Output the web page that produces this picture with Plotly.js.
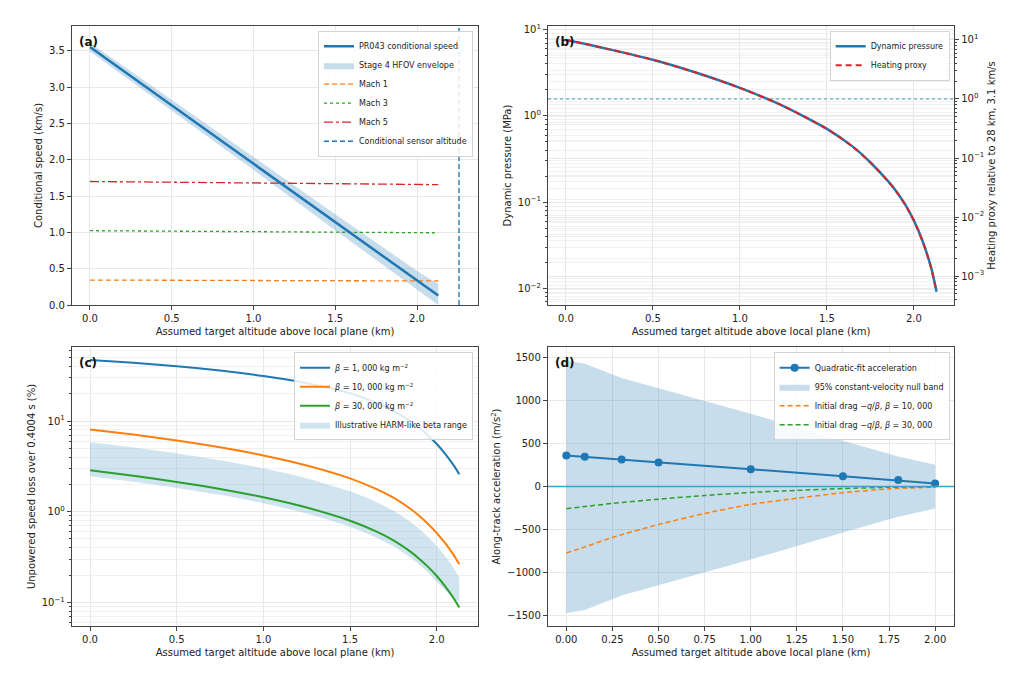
<!DOCTYPE html>
<html>
<head>
<meta charset="utf-8">
<script src="https://cdn.plot.ly/plotly-3.0.1.min.js"></script>
<style>
  html, body { margin: 0; padding: 0; background: #fff; }
  #chart { width: 1024px; height: 678px; }
</style>
</head>
<body>
<div id="chart"></div>
<script>
// ---- panel (a): conditional speed ----
const altA = [0, 0.5, 1.0, 1.5, 2.0, 2.13]
const speedA = [3.55, 2.75, 1.95, 1.14, 0.34, 0.13]
const envUpperA = [3.61, 2.82, 2.04, 1.25, 0.47, 0.29]
const envLowerA = [3.49, 2.68, 1.86, 1.03, 0.21, 0.0]
const machAlt = [0, 2.13]
const mach1 = [0.344, 0.331]
const mach3 = [1.023, 0.994]
const mach5 = [1.70, 1.657]
const sensorAlt = 2.257

// ---- panel (b): dynamic pressure / heating ----
const altB = [0, 0.1, 0.25, 0.5, 0.75, 1.0, 1.25, 1.5, 1.65, 1.75, 1.85, 1.9, 1.95, 2.0, 2.05, 2.1, 2.13]
const dynPressure = [7.6, 6.9, 5.91, 4.47, 3.16, 2.11, 1.30, 0.708, 0.437, 0.288, 0.176, 0.132, 0.0933, 0.061, 0.0351, 0.017, 0.00912]
const heatingProxy = [10.0, 8.69, 6.93, 4.61, 2.78, 1.543, 0.761, 0.312, 0.154, 0.0841, 0.0408, 0.0268, 0.0162, 0.00868, 0.00387, 0.00134, 0.00054]
const heatingRef = 1

// ---- panel (c): speed loss ----
const altC = [0, 0.25, 0.5, 0.75, 1.0, 1.25, 1.5, 1.65, 1.75, 1.85, 1.9, 1.95, 2.0, 2.05, 2.1, 2.13]
const loss1k = [47.3, 44.0, 40.3, 36.2, 31.4, 26.2, 20.3, 16.0, 13.0, 9.95, 8.41, 6.95, 5.58, 4.33, 3.20, 2.59]
const loss10k = [8.10, 7.10, 6.11, 5.14, 4.18, 3.24, 2.335, 1.784, 1.427, 1.070, 0.895, 0.732, 0.581, 0.446, 0.327, 0.262]
const loss30k = [2.862, 2.491, 2.129, 1.785, 1.441, 1.110, 0.794, 0.605, 0.482, 0.360, 0.301, 0.246, 0.195, 0.149, 0.109, 0.0873]
const harmUpper = [5.83, 5.11, 4.40, 3.70, 3.01, 2.33, 1.68, 1.283, 1.027, 0.770, 0.644, 0.527, 0.418, 0.321, 0.235, 0.188]
const harmLower = [2.461, 2.142, 1.831, 1.535, 1.239, 0.955, 0.683, 0.520, 0.415, 0.310, 0.259, 0.212, 0.168, 0.134, 0.109, 0.100]

// ---- panel (d): along-track acceleration ----
const fitAlt = [0, 0.1, 0.3, 0.5, 1.0, 1.5, 1.8, 2.0]
const fitAccel = [360, 345, 313, 279, 201, 120, 74, 35]
const nullUpper = [1462, 1423, 1257, 1141, 843, 530, 348, 252]
const nullLower = [-1469, -1430, -1262, -1145, -845, -532, -350, -254]
const altD = [0, 0.1, 0.25, 0.5, 0.75, 1.0, 1.25, 1.5, 1.75, 2.0]
const drag10k = [-770, -700, -590, -440, -312, -207, -136, -72, -27, -7]
const drag30k = [-257, -232, -196, -147, -104, -69, -45, -24, -9, -2]

// axis ranges
const rangeXA = [-0.11, 2.373], rangeYA = [0, 3.84]
const rangeXB = [-0.103, 2.23]
const rangeXC = [-0.104, 2.238]
const rangeXD = [-0.099, 2.102]

const FONT = 'DejaVu Sans, Verdana, sans-serif'
const BLUE = '#1f77b4', ORANGE = '#ff7f0e', GREEN = '#2ca02c', RED = '#d62728'
const X_TITLE = 'Assumed target altitude above local plane (km)'

let pow10 = n => '10<sup>' + (n < 0 ? '\u2212' + (-n) : n) + '</sup>'
let minorVals = function (lo, hi) {
  let vals = []
  for (let e = lo; e <= hi; e++) {
    for (let m = 2; m <= 9; m++) vals.push(m * Math.pow(10, e))
  }
  return vals
}
let axis = function (extra) {
  return Object.assign({
    showline: true, mirror: true, linecolor: '#444', linewidth: 1.2,
    ticks: 'outside', ticklen: 4, tickcolor: '#444', tickwidth: 1,
    showgrid: true, gridcolor: '#e8e8e8', gridwidth: 1, zeroline: false,
    tickfont: { size: 10, color: '#222', family: FONT }
  }, extra)
}
let logAxis = function (lo, hi, extra) {
  let vals = [], text = []
  for (let e = lo; e <= hi; e++) { vals.push(Math.pow(10, e)); text.push(pow10(e)) }
  return axis(Object.assign({
    type: 'log', tickmode: 'array', tickvals: vals, ticktext: text,
    minor: { tickmode: 'array', tickvals: minorVals(lo - 1, hi), ticks: 'outside', ticklen: 2,
             tickcolor: '#444', showgrid: true, gridcolor: '#f1f1f1' }
  }, extra))
}
let xTitle = { text: X_TITLE, font: { size: 10, color: '#222' }, standoff: 4 }
let yTitle = t => ({ text: t, font: { size: 10, color: '#222' }, standoff: 4 })
let smooth = { shape: 'spline', smoothing: 0.6 }

let traces = [
  // (a)
  { x: altA, y: envLowerA, xaxis: 'x', yaxis: 'y', mode: 'lines', line: { width: 0 }, showlegend: false, hoverinfo: 'skip' },
  { x: altA, y: envUpperA, xaxis: 'x', yaxis: 'y', mode: 'lines', line: { width: 0 }, fill: 'tonexty',
    fillcolor: 'rgba(31,119,180,0.25)', name: 'Stage 4 HFOV envelope', legend: 'legend', legendrank: 2 },
  { x: machAlt, y: mach1, xaxis: 'x', yaxis: 'y', mode: 'lines', line: { color: ORANGE, width: 1.3, dash: '5px,3px' },
    name: 'Mach 1', legend: 'legend', legendrank: 3 },
  { x: machAlt, y: mach3, xaxis: 'x', yaxis: 'y', mode: 'lines', line: { color: GREEN, width: 1.3, dash: 'dot' },
    name: 'Mach 3', legend: 'legend', legendrank: 4 },
  { x: machAlt, y: mach5, xaxis: 'x', yaxis: 'y', mode: 'lines', line: { color: RED, width: 1.3, dash: 'dashdot' },
    name: 'Mach 5', legend: 'legend', legendrank: 5 },
  { x: altA, y: speedA, xaxis: 'x', yaxis: 'y', mode: 'lines', line: { color: BLUE, width: 2.5 },
    name: 'PR043 conditional speed', legend: 'legend', legendrank: 1 },
  { x: [sensorAlt, sensorAlt], y: rangeYA, xaxis: 'x', yaxis: 'y', mode: 'lines', line: { color: BLUE, width: 1.4, dash: '5px,3px' },
    name: 'Conditional sensor altitude', legend: 'legend', legendrank: 6 },

  // (b)
  { x: rangeXB, y: [heatingRef, heatingRef], xaxis: 'x2', yaxis: 'y3', mode: 'lines',
    line: { color: '#3f9cc4', width: 1.2, dash: 'dot' }, showlegend: false, hoverinfo: 'skip' },
  { x: altB, y: dynPressure, xaxis: 'x2', yaxis: 'y2', mode: 'lines', line: Object.assign({ color: BLUE, width: 2.5 }, smooth),
    name: 'Dynamic pressure', legend: 'legend2', legendrank: 1 },
  { x: altB, y: heatingProxy, xaxis: 'x2', yaxis: 'y3', mode: 'lines', line: Object.assign({ color: RED, width: 2, dash: '6px,4px' }, smooth),
    name: 'Heating proxy', legend: 'legend2', legendrank: 2 },

  // (c)
  { x: altC, y: harmLower, xaxis: 'x3', yaxis: 'y4', mode: 'lines', line: Object.assign({ width: 0 }, smooth), showlegend: false, hoverinfo: 'skip' },
  { x: altC, y: harmUpper, xaxis: 'x3', yaxis: 'y4', mode: 'lines', line: Object.assign({ width: 0 }, smooth), fill: 'tonexty',
    fillcolor: 'rgba(120,180,210,0.35)', name: 'Illustrative HARM-like beta range', legend: 'legend3', legendrank: 4 },
  { x: altC, y: loss1k, xaxis: 'x3', yaxis: 'y4', mode: 'lines', line: Object.assign({ color: BLUE, width: 2 }, smooth),
    name: '<i>β</i> = 1, 000 kg m<sup>−2</sup>', legend: 'legend3', legendrank: 1 },
  { x: altC, y: loss10k, xaxis: 'x3', yaxis: 'y4', mode: 'lines', line: Object.assign({ color: ORANGE, width: 2 }, smooth),
    name: '<i>β</i> = 10, 000 kg m<sup>−2</sup>', legend: 'legend3', legendrank: 2 },
  { x: altC, y: loss30k, xaxis: 'x3', yaxis: 'y4', mode: 'lines', line: Object.assign({ color: GREEN, width: 2 }, smooth),
    name: '<i>β</i> = 30, 000 kg m<sup>−2</sup>', legend: 'legend3', legendrank: 3 },

  // (d)
  { x: fitAlt, y: nullLower, xaxis: 'x4', yaxis: 'y5', mode: 'lines', line: { width: 0 }, showlegend: false, hoverinfo: 'skip' },
  { x: fitAlt, y: nullUpper, xaxis: 'x4', yaxis: 'y5', mode: 'lines', line: { width: 0 }, fill: 'tonexty',
    fillcolor: 'rgba(31,119,180,0.25)', name: '95% constant-velocity null band', legend: 'legend4', legendrank: 2 },
  { x: altD, y: drag10k, xaxis: 'x4', yaxis: 'y5', mode: 'lines', line: Object.assign({ color: ORANGE, width: 1.5, dash: '5px,3px' }, smooth),
    name: 'Initial drag −<i>q</i>/<i>β</i>, <i>β</i> = 10, 000', legend: 'legend4', legendrank: 3 },
  { x: altD, y: drag30k, xaxis: 'x4', yaxis: 'y5', mode: 'lines', line: Object.assign({ color: GREEN, width: 1.5, dash: '5px,3px' }, smooth),
    name: 'Initial drag −<i>q</i>/<i>β</i>, <i>β</i> = 30, 000', legend: 'legend4', legendrank: 4 },
  { x: fitAlt, y: fitAccel, xaxis: 'x4', yaxis: 'y5', mode: 'lines+markers', line: { color: BLUE, width: 2 },
    marker: { color: BLUE, size: 8 }, name: 'Quadratic-fit acceleration', legend: 'legend4', legendrank: 1 }
]

let legendStyle = (x, y) => ({
  x: x, y: y, xref: 'paper', yref: 'paper', xanchor: 'right', yanchor: 'top',
  bgcolor: 'rgba(255,255,255,0.85)', bordercolor: '#d4d4d4', borderwidth: 1,
  font: { size: 8, color: '#222', family: FONT }, itemwidth: 30, tracegroupgap: 0,
  traceorder: 'normal'
})

let panelLabel = (t, xr, yr) => ({
  text: '<b>' + t + '</b>', xref: xr + ' domain', yref: yr + ' domain', x: 0.012, y: 0.975,
  xanchor: 'left', yanchor: 'top', showarrow: false, font: { size: 12, color: '#111', family: FONT }
})

let layout = {
  width: 1024, height: 678,
  margin: { l: 0, r: 0, t: 0, b: 0 },
  paper_bgcolor: '#fff', plot_bgcolor: '#fff',
  font: { family: FONT, color: '#222' },
  xaxis: axis({ domain: [0.0703, 0.4668], anchor: 'y', range: rangeXA, dtick: 0.5, tickformat: '.1f', title: xTitle }),
  yaxis: axis({ domain: [0.5501, 0.9617], anchor: 'x', range: rangeYA, dtick: 0.5, tickformat: '.1f', title: yTitle('Conditional speed (km/s)') }),
  xaxis2: axis({ domain: [0.5352, 0.9316], anchor: 'y2', range: rangeXB, dtick: 0.5, tickformat: '.1f', title: xTitle }),
  yaxis2: logAxis(-2, 1, { domain: [0.5501, 0.9617], anchor: 'x2', range: [-2.194, 1.043], title: yTitle('Dynamic pressure (MPa)') }),
  yaxis3: logAxis(-3, 1, { overlaying: 'y2', anchor: 'x2', side: 'right', range: [-3.49, 1.237], mirror: false,
    title: yTitle('Heating proxy relative to 28 km, 3.1 km/s') }),
  xaxis3: axis({ domain: [0.0703, 0.4668], anchor: 'y4', range: rangeXC, dtick: 0.5, tickformat: '.1f', title: xTitle }),
  yaxis4: logAxis(-1, 1, { domain: [0.0767, 0.4882], anchor: 'x3', range: [-1.262, 1.818], title: yTitle('Unpowered speed loss over 0.4004 s (%)') }),
  xaxis4: axis({ domain: [0.5352, 0.9316], anchor: 'y5', range: rangeXD, dtick: 0.25, tickformat: '.2f', title: xTitle }),
  yaxis5: axis({ domain: [0.0767, 0.4882], anchor: 'x4', range: [-1616, 1616], dtick: 500,
    title: yTitle('Along-track acceleration (m/s<sup>2</sup>)') }),
  legend: legendStyle(0.4619, 0.9547),
  legend2: legendStyle(0.9274, 0.9547),
  legend3: legendStyle(0.4619, 0.4804),
  legend4: legendStyle(0.9274, 0.4804),
  shapes: [
    { type: 'line', xref: 'x4 domain', yref: 'y5', x0: 0, x1: 1, y0: 0, y1: 0, layer: 'above',
      line: { color: '#3da0cf', width: 1.3 } }
  ],
  annotations: [
    panelLabel('(a)', 'x', 'y'),
    panelLabel('(b)', 'x2', 'y2'),
    panelLabel('(c)', 'x3', 'y4'),
    panelLabel('(d)', 'x4', 'y5')
  ]
}

Plotly.newPlot('chart', traces, layout, { displayModeBar: false, responsive: false, staticPlot: true })
</script>
</body>
</html>
